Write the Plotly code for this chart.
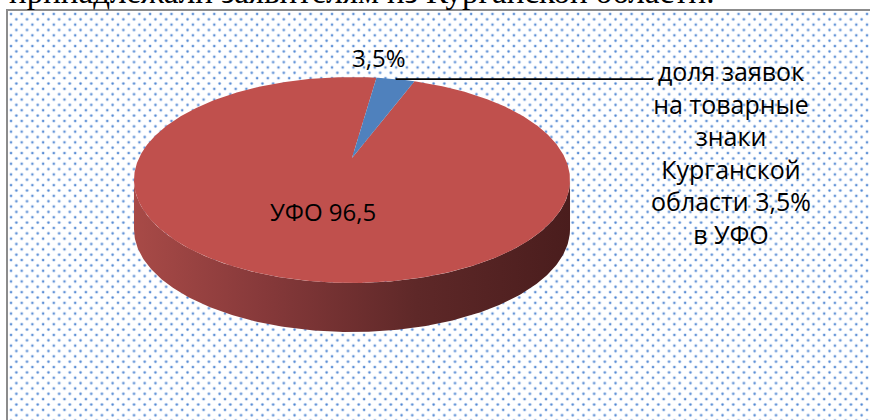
import base64
import numpy as np
import plotly.graph_objects as go

# ---- data ----
categories = ["УФО", "Курганская область"]
values = [96.5, 3.5]
slice_colors = ["#C0504D", "#4F81BD"]
inside_label = "УФО 96,5"
outside_label = "3,5%"
note_lines = ["доля заявок", "на товарные", "знаки", "Курганской", "области 3,5%", "в УФО"]
heading = "принадлежали заявителям из Курганской области."

# ---- geometry / style ----
W, H = 870, 420
CX, CY = 352, 158          # projected centre of the pie top
A, B, K = 213, 98.3, 0.2136  # horizontal / vertical radius, perspective factor
DEPTH = 49
START = 20.6               # first slice angle (deg, clockwise from 12 o'clock)
FONT = "Open Sans"


def proj(theta_deg, r=1.0, dz=0.0):
    t = np.radians(theta_deg)
    X = r * np.sin(t)
    D = r * np.cos(t)
    s = 1.0 / (1.0 + K * D)
    return CX + A * X * s, CY - B * D * s + dz


total = float(sum(values))
angles = [START]
for v in values:
    angles.append(angles[-1] + 360.0 * v / total)

fig = go.Figure()

# side walls (only the front-facing part is visible)
vis_lo = 360 - np.degrees(np.arccos(-K))
vis_hi = np.degrees(np.arccos(-K))
for i, v in enumerate(values):
    a0, a1 = angles[i], angles[i + 1]
    for off in (-360, 0, 360):
        lo = max(a0, vis_hi + off)
        hi = min(a1, vis_lo + off)
        if hi > lo:
            th = np.linspace(lo, hi, 200)
            xt, yt = proj(th)
            xb, yb = proj(th[::-1], dz=DEPTH)
            fig.add_trace(go.Scatter(
                x=np.concatenate([xt, xb, xt[:1]]),
                y=np.concatenate([yt, yb, yt[:1]]),
                mode="lines", line=dict(width=0), fill="toself",
                fillgradient=dict(type="horizontal", colorscale=[
                    [0, "#A84A47"], [0.3, "#86393A"], [0.65, "#5E2828"], [1, "#4A1D1D"]]),
                hoverinfo="skip", showlegend=False))

# top faces
for i, v in enumerate(values):
    a0, a1 = angles[i], angles[i + 1]
    th = np.linspace(a0, a1, max(int((a1 - a0) * 2), 8))
    xs, ys = proj(th)
    fig.add_trace(go.Scatter(
        x=np.concatenate([[CX], xs, [CX]]),
        y=np.concatenate([[CY], ys, [CY]]),
        mode="lines", line=dict(width=0, color=slice_colors[i]), fill="toself",
        fillcolor=slice_colors[i], name=categories[i],
        hoverinfo="skip", showlegend=False))

# labels
mid0 = (angles[0] + angles[1]) / 2
lx, ly = proj(mid0, r=0.5)
mid1 = (angles[1] + angles[2]) / 2
rx, ry = proj(mid1, r=1.0)

annotations = [
    dict(x=lx, y=ly, text=inside_label, showarrow=False, xref="x", yref="y",
         font=dict(family=FONT, size=24, color="black")),
    dict(x=rx - 17, y=ry - 22, text=outside_label, showarrow=False, xref="x", yref="y",
         font=dict(family=FONT, size=24, color="black")),
    dict(x=731, y=152, text="<br>".join(note_lines), showarrow=False, xref="x", yref="y",
         align="center", font=dict(family=FONT, size=25, color="black")),
    dict(x=7, y=12, text=heading, showarrow=False, xref="x", yref="y",
         xanchor="left", yanchor="bottom",
         font=dict(family="Liberation Serif", size=33, color="black")),
]

shapes = [
    dict(type="rect", xref="x", yref="y", x0=7, y0=10, x1=W + 10, y1=H + 10,
         line=dict(color="#8C8C8C", width=2), layer="above"),
    dict(type="line", xref="x", yref="y", x0=rx, y0=ry, x1=653, y1=ry,
         line=dict(color="black", width=1.8)),
]

# dotted background pattern
pw, ph = W - 8, H - 11
svg = (f'<svg xmlns="http://www.w3.org/2000/svg" width="{pw}" height="{ph}" '
       f'viewBox="0 0 {pw} {ph}" preserveAspectRatio="none"><defs>'
       '<pattern id="p" width="10.7" height="10.7" patternUnits="userSpaceOnUse">'
       '<circle cx="3" cy="3" r="1.7" fill="#CCDCF2"/><circle cx="3" cy="3" r="1.1" fill="#4F86D2"/>'
       '<circle cx="8.35" cy="8.35" r="1.7" fill="#CCDCF2"/><circle cx="8.35" cy="8.35" r="1.1" fill="#4F86D2"/>'
       '</pattern></defs><rect width="100%" height="100%" fill="url(#p)"/></svg>')
src = "data:image/svg+xml;base64," + base64.b64encode(svg.encode()).decode()

fig.update_layout(
    width=W, height=H, margin=dict(l=0, r=0, t=0, b=0),
    paper_bgcolor="white", plot_bgcolor="white",
    xaxis=dict(range=[0, W], visible=False, fixedrange=True),
    yaxis=dict(range=[H, 0], visible=False, fixedrange=True),
    annotations=annotations, shapes=shapes,
    images=[dict(source=src, xref="x", yref="y", x=8, y=11, sizex=pw, sizey=ph,
                 xanchor="left", yanchor="top", sizing="stretch", layer="below")],
    showlegend=False,
)

fig.write_html("out.html", config={"staticPlot": True},
               post_script="document.body.style.margin='0';document.body.style.overflow='hidden';")
